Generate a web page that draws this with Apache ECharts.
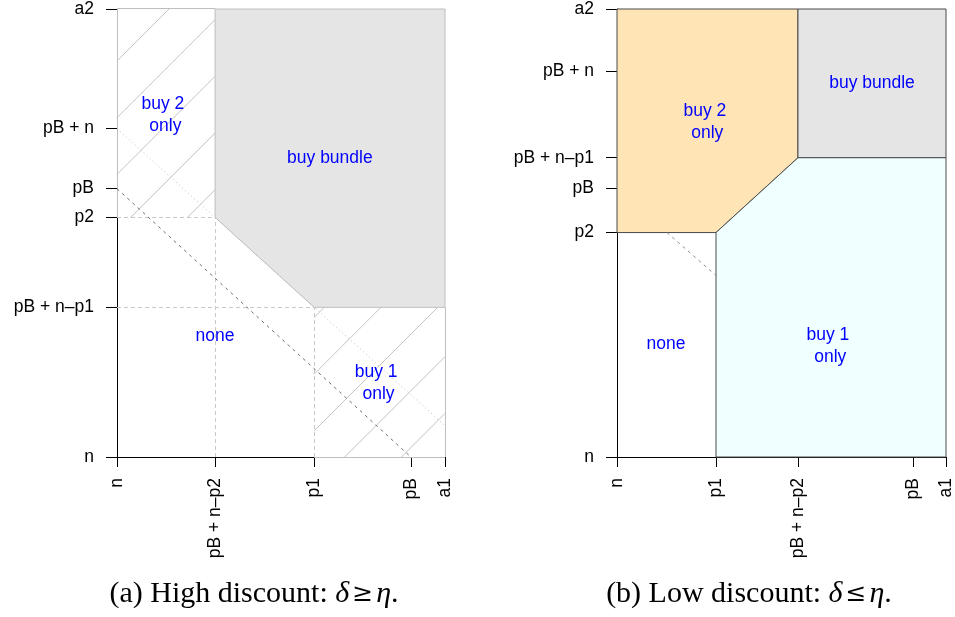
<!DOCTYPE html>
<html>
<head>
<meta charset="utf-8">
<script src="https://cdn.jsdelivr.net/npm/echarts@6/dist/echarts.min.js"></script>
<style>
html, body { margin: 0; padding: 0; background: #fff; }
#chart { width: 955px; height: 617px; }
</style>
</head>
<body>
<div id="chart"></div>
<script>
// schematic units: n = 0, a1 = a2 = 100 on both panels
var xTicksA = [0, 29.9, 60.1, 89.6, 100];
var xLabelsA = ['n', 'pB + n\u2013p2', 'p1', 'pB', 'a1'];
var yTicksA = [0, 33.4, 53.5, 59.9, 73.3, 100];
var yLabelsA = ['n', 'pB + n\u2013p1', 'p2', 'pB', 'pB + n', 'a2'];

var xTicksB = [0, 30.1, 55.0, 90.0, 100];
var xLabelsB = ['n', 'p1', 'pB + n\u2013p2', 'pB', 'a1'];
var yTicksB = [0, 50.1, 60.1, 66.8, 86.2, 100];
var yLabelsB = ['n', 'p2', 'pB', 'pB + n\u2013p1', 'pB + n', 'a2'];

// panel (a) regions
var bundleA = [[29.9, 100], [100, 100], [100, 33.4], [60.1, 33.4], [29.9, 53.5]];
var noneA = [[0, 0], [60.1, 0], [60.1, 33.4], [29.9, 53.5], [0, 53.5]];
var buy2A = [[0, 53.5], [0, 100], [29.9, 100], [29.9, 53.5]];
var buy1A = [[60.1, 0], [60.1, 33.4], [100, 33.4], [100, 0]];
// segments [x1, y1, x2, y2]
var edgesA = [[0, 53.5, 0, 100], [0, 100, 29.9, 100], [60.1, 0, 100, 0], [100, 0, 100, 33.4]];
var guidesA = [[29.9, 0, 29.9, 53.5], [0, 33.4, 60.1, 33.4], [60.1, 0, 60.1, 33.4], [0, 53.5, 29.9, 53.5]];
var dottedA = [[0, 73.3, 100, 7]];
var dashedA = [[0, 59.9, 89.6, 0]];

// panel (b) regions
var noneB = [[0, 0], [30.1, 0], [30.1, 50.1], [0, 50.1]];
var buy2B = [[0, 100], [55, 100], [55, 66.8], [30.1, 50.1], [0, 50.1]];
var bundleB = [[55, 100], [100, 100], [100, 66.8], [55, 66.8]];
var buy1B = [[30.1, 0], [30.1, 50.1], [55, 66.8], [100, 66.8], [100, 0]];
var dashedB = [[15.2, 50.1, 30.1, 40.5]];

// region names [x, y, text]
var labelsA = [[14.0, 76.3, 'buy 2\n only'], [64.9, 66.8, 'buy bundle'], [29.9, 26.9, 'none'], [79.0, 16.5, 'buy 1\n only']];
var labelsB = [[26.7, 74.8, 'buy 2\n only'], [77.5, 83.5, 'buy bundle'], [14.9, 25.2, 'none'], [64.1, 24.7, 'buy 1\n only']];

var FONT = 'Liberation Sans';

function fmt(ticks, labels) {
  return function (v) {
    for (var i = 0; i < ticks.length; i++) {
      if (Math.abs(ticks[i] - v) < 1e-6) return labels[i];
    }
    return '';
  };
}

function xAxis(idx, ticks, labels) {
  return {
    type: 'value', gridIndex: idx, min: 0, max: 100,
    axisLine: { show: true, onZero: false, lineStyle: { color: '#000', width: 1 } },
    axisTick: { show: true, length: 10, customValues: ticks, lineStyle: { color: '#000' } },
    axisLabel: { customValues: ticks, rotate: 90, margin: 21, color: '#000', fontSize: 17.5, fontFamily: FONT, formatter: fmt(ticks, labels) },
    splitLine: { show: false }
  };
}
function yAxis(idx, ticks, labels) {
  return {
    type: 'value', gridIndex: idx, min: 0, max: 100,
    axisLine: { show: true, onZero: false, lineStyle: { color: '#000', width: 1 } },
    axisTick: { show: true, length: 11, customValues: ticks, lineStyle: { color: '#000' } },
    axisLabel: { customValues: ticks, margin: 23, color: '#000', fontSize: 17.5, fontFamily: FONT, formatter: fmt(ticks, labels) },
    splitLine: { show: false }
  };
}

// snap axis-parallel 1px lines onto pixel centres
function crisp(v) { return Math.round(v - 0.5) + 0.5; }

// polygons; hatch = diagonal lines like R's density shading
function areaSeries(idx, polys, fills, stroke, hatch, z) {
  return {
    type: 'custom', xAxisIndex: idx, yAxisIndex: idx, z: z == null ? 2 : z, silent: true,
    data: polys.map(function (p, i) { return [i, i]; }),
    renderItem: function (params, api) {
      var pts = polys[params.dataIndex].map(function (p) { return api.coord(p); });
      var kids = [{
        type: 'polygon', shape: { points: pts },
        style: { fill: fills[params.dataIndex], stroke: stroke || null, lineWidth: 1 }
      }];
      if (hatch) {
        var xs = pts.map(function (p) { return p[0]; });
        var ys = pts.map(function (p) { return p[1]; });
        var x0 = Math.min.apply(null, xs), x1 = Math.max.apply(null, xs);
        var y0 = Math.min.apply(null, ys), y1 = Math.max.apply(null, ys);
        var o = api.coord([0, 100]);
        var step = 56.7;
        var base = o[0] + o[1] + 52;
        for (var k = -5; k < 30; k++) {
          var c = base + k * step;
          var xa = Math.max(x0, c - y1), xb = Math.min(x1, c - y0);
          if (xb - xa > 0.5) {
            kids.push({ type: 'line', shape: { x1: xa, y1: c - xa, x2: xb, y2: c - xb },
              style: { stroke: '#c4c4c4', lineWidth: 1 } });
          }
        }
      }
      return { type: 'group', children: kids };
    }
  };
}

function segSeries(idx, segs, style, z) {
  return {
    type: 'custom', xAxisIndex: idx, yAxisIndex: idx, z: z || 3, silent: true,
    data: segs,
    encode: { x: [0, 2], y: [1, 3] },
    renderItem: function (params, api) {
      var a = api.coord([api.value(0), api.value(1)]);
      var b = api.coord([api.value(2), api.value(3)]);
      if (Math.abs(a[0] - b[0]) < 0.01) { a[0] = b[0] = crisp(a[0]); }
      if (Math.abs(a[1] - b[1]) < 0.01) { a[1] = b[1] = crisp(a[1]); }
      return { type: 'line', shape: { x1: a[0], y1: a[1], x2: b[0], y2: b[1] }, style: style };
    }
  };
}

function labelSeries(idx, labels) {
  return {
    type: 'custom', xAxisIndex: idx, yAxisIndex: idx, z: 5, silent: true,
    data: labels.map(function (l) { return [l[0], l[1]]; }),
    renderItem: function (params, api) {
      var p = api.coord([api.value(0), api.value(1)]);
      return {
        type: 'text', x: p[0], y: p[1],
        style: { text: labels[params.dataIndex][2], fill: '#0000ff', font: '17.5px "' + FONT + '"',
          align: 'center', verticalAlign: 'middle', lineHeight: 22 }
      };
    }
  };
}

var gray = '#bebebe';
var dark = '#4a4a4a';

function caption(x, text) {
  return {
    type: 'text', x: x, y: 594,
    style: {
      text: text,
      fontFamily: 'Liberation Serif', fontSize: 30, fill: '#000', align: 'center', verticalAlign: 'middle',
      rich: {
        i: { fontFamily: 'Liberation Serif', fontSize: 30, fontStyle: 'italic' },
        s: { fontFamily: 'DejaVu Serif', fontSize: 25, padding: [0, 3, 0, 3] }
      }
    }
  };
}

var chart = echarts.init(document.getElementById('chart'));
chart.setOption({
  animation: false,
  backgroundColor: '#ffffff',
  grid: [
    { left: 117, top: 8, width: 328, height: 449 },
    { left: 617, top: 8, width: 329, height: 449 }
  ],
  xAxis: [xAxis(0, xTicksA, xLabelsA), xAxis(1, xTicksB, xLabelsB)],
  yAxis: [yAxis(0, yTicksA, yLabelsA), yAxis(1, yTicksB, yLabelsB)],
  series: [
    areaSeries(0, [noneA], ['#ffffff'], null, false, -1),
    areaSeries(0, [bundleA], ['#e5e5e5'], gray, false),
    areaSeries(0, [buy2A, buy1A], ['rgba(0,0,0,0)', 'rgba(0,0,0,0)'], null, true),
    segSeries(0, edgesA, { stroke: gray, lineWidth: 1 }),
    segSeries(0, guidesA, { stroke: '#c8c8c8', lineWidth: 1, lineDash: [4, 3] }),
    segSeries(0, dottedA, { stroke: '#c0c0c0', lineWidth: 1, lineDash: [1, 3] }),
    segSeries(0, dashedA, { stroke: '#6e6e6e', lineWidth: 1, lineDash: [3, 4] }),
    labelSeries(0, labelsA),

    areaSeries(1, [noneB], ['#ffffff'], null, false, -1),
    areaSeries(1, [buy2B, bundleB, buy1B], ['#ffe4b5', '#e5e5e5', '#f0ffff'], dark, false),
    segSeries(1, dashedB, { stroke: '#8a8a8a', lineWidth: 1, lineDash: [3, 4] }),
    labelSeries(1, labelsB)
  ],
  graphic: [
    caption(254, '(a) High discount: {i|\u03b4}{s|\u2265}{i|\u03b7}.'),
    caption(749, '(b) Low discount: {i|\u03b4}{s|\u2264}{i|\u03b7}.')
  ]
});
</script>
</body>
</html>
